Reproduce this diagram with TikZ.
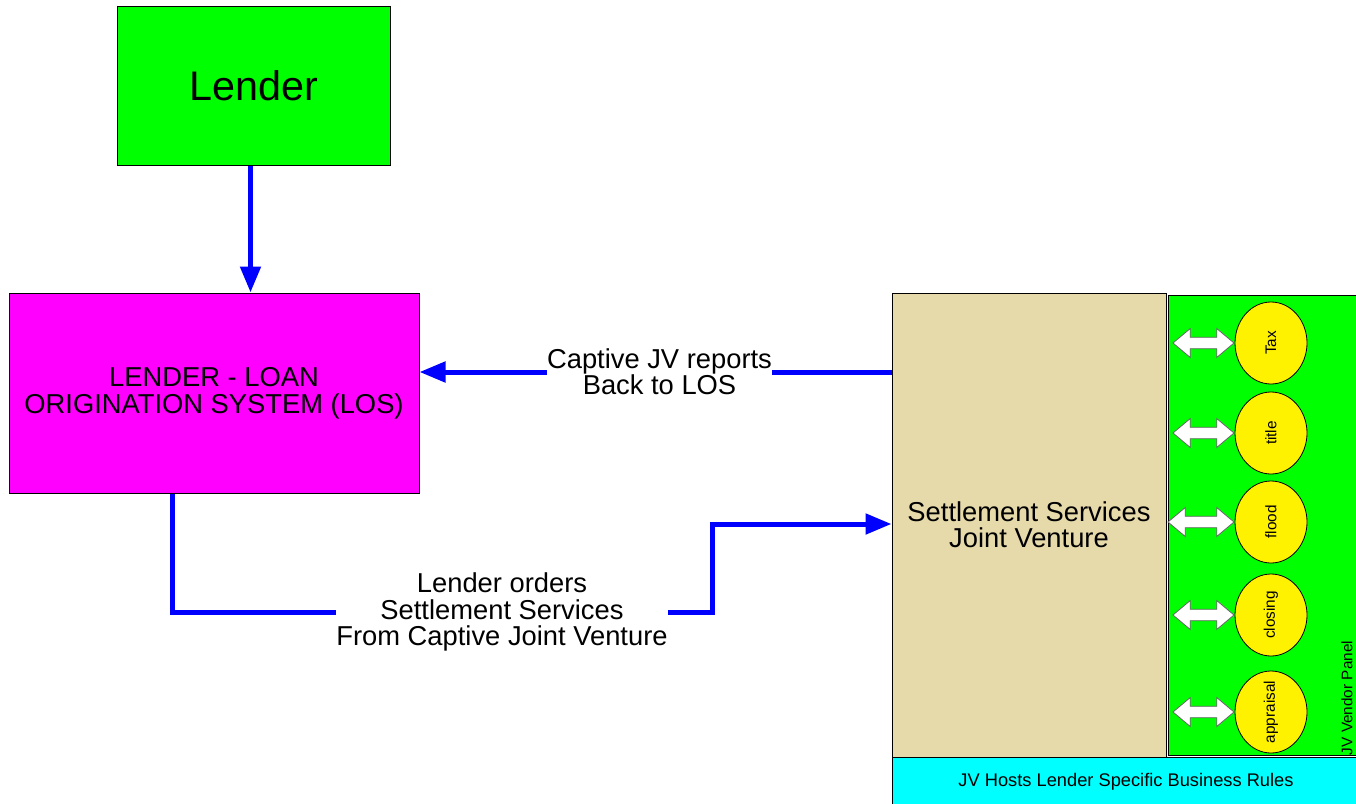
\documentclass[tikz,border=0pt]{standalone}
\usepackage{fontspec}
\setmainfont{Liberation Sans}
\usetikzlibrary{arrows.meta,shapes.geometric,shapes.arrows}

\definecolor{jvtan}{RGB}{230,217,170}
\definecolor{losmag}{RGB}{255,0,255}
\definecolor{rulecyan}{RGB}{0,255,255}
\definecolor{panelgreen}{RGB}{0,255,0}
\tikzset{
  box/.style={draw=black, line width=0.75pt, inner sep=0pt, align=center},
  flow/.style={draw=blue, line width=3.75pt},
  tip/.style={-{Triangle[width=15pt,length=19.5pt]}},
  lbl/.style={inner sep=0pt, align=center, font=\fontsize{20.5}{19.8}\selectfont},
  vendor/.style={ellipse, draw=black, line width=0.6pt, fill=yellow, minimum width=54pt, minimum height=61.5pt, inner sep=0pt},
  vtext/.style={rotate=90, font=\fontsize{11.5}{13}\selectfont},
  link/.style={double arrow, draw=black!60, fill=white, line width=0.6pt, inner sep=4pt, minimum height=45.75pt, double arrow head extend=6.5pt, double arrow tip angle=80}
}

\begin{document}
\begin{tikzpicture}[x=0.75pt, y=-0.75pt]
\useasboundingbox (0,0) rectangle (1356,803);
\node[box, fill=panelgreen, minimum width=204.75pt, minimum height=119.25pt, font=\fontsize{31}{33}\selectfont] (Lender) at (253.5,85.5) {Lender};
\node[box, fill=losmag, minimum width=307.5pt, minimum height=150pt, font=\fontsize{20.5}{20.2}\selectfont] (LOS) at (214,393) {LENDER - LOAN\\ORIGINATION SYSTEM (LOS)};
\node[box, fill=jvtan, minimum width=205.5pt, minimum height=348pt, font=\fontsize{20.5}{19.5}\selectfont] (JV) at (1029,525) {Settlement Services\\Joint Venture};
\node[box, fill=panelgreen, minimum width=144pt, minimum height=345pt] (panel) at (1264,525) {};
\node[box, fill=rulecyan, minimum width=351pt, minimum height=36.75pt, font=\fontsize{13.7}{15}\selectfont] (rules) at (1126,781.5) {JV Hosts Lender Specific Business Rules};
\node[rotate=90, inner sep=0pt, font=\fontsize{11.5}{13}\selectfont] (paneltxt) at (1347,698) {JV Vendor Panel};

\node[vendor] (tax) at (1271,343) {}; \node[vtext] at (tax) {Tax};
\node[vendor] (title) at (1271,433) {}; \node[vtext] at (title) {title};
\node[vendor] (flood) at (1271,522) {}; \node[vtext] at (flood) {flood};
\node[vendor] (closing) at (1271,615) {}; \node[vtext] at (closing) {closing};
\node[vendor] (appraisal) at (1271,712) {}; \node[vtext] at (appraisal) {appraisal};
\node[link, anchor=east] (taxlink) at (tax.west) {};
\node[link, anchor=east] (titlelink) at (title.west) {};
\node[link, anchor=east, minimum height=49.5pt] (floodlink) at (flood.west) {};
\node[link, anchor=east] (closinglink) at (closing.west) {};
\node[link, anchor=east] (appraisallink) at (appraisal.west) {};

\node[lbl] (rptlbl) at (659.5,372) {Captive JV reports\\Back to LOS};
\node[lbl] (ordlbl) at (502,612) {Lender orders\\Settlement Services\\From Captive Joint Venture};
\coordinate (step) at (712,524);

\draw[flow, tip] ([xshift=-2.25pt]Lender.south) -- ([xshift=-2.25pt]Lender.south |- LOS.north);
\draw[flow] (JV.west |- rptlbl) -- (rptlbl.east);
\draw[flow, tip] (rptlbl.west) -- (LOS.east |- rptlbl);
\draw[flow] ([xshift=-31.5pt]LOS.south) |- (ordlbl.west);
\draw[flow, tip] (ordlbl.east) -| (step) -- (step -| JV.west);
\end{tikzpicture}
\end{document}
